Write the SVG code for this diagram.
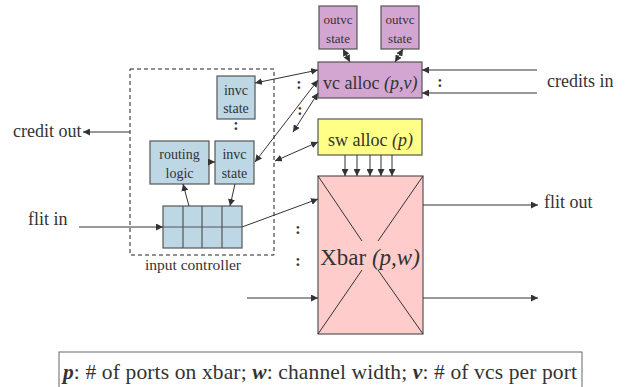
<svg xmlns="http://www.w3.org/2000/svg" width="628" height="387" viewBox="0 0 628 387" font-family="'Liberation Serif', serif">
<defs>
<marker id="ah" viewBox="0 0 10 10" refX="10" refY="5" markerWidth="7" markerHeight="7" markerUnits="userSpaceOnUse" orient="auto-start-reverse">
<path d="M0,0 L10,5 L0,10 z" fill="#333"/>
</marker>
<style>
text{font-family:'Liberation Serif',serif;fill:#333;}
.box{stroke:#555;stroke-width:1.2;}
.purple{fill:#D3A6D1;}
.yellow{fill:#FFFF88;}
.pink{fill:#FFCCCC;}
.blue{fill:#BDD7E4;}
.c{stroke:#333;stroke-width:1;fill:none;}
.a{stroke:#333;stroke-width:1;fill:none;marker-end:url(#ah);}
.b{stroke:#333;stroke-width:1;fill:none;marker-end:url(#ah);marker-start:url(#ah);}
.dot{font-size:16px;font-weight:bold;}
.s12{font-size:13px;}
.s13{font-size:14px;}
.s18{font-size:18px;}
.m{text-anchor:middle;}
</style>
</defs>

<g id="outvc1">
<rect class="box purple" x="319" y="6" width="38" height="43"/>
<text class="s12 m" x="338" y="24" font-family="'Liberation Serif', serif">outvc</text>
<text class="s12 m" x="338" y="43" font-family="'Liberation Serif', serif">state</text>
</g>
<g id="outvc2">
<rect class="box purple" x="381" y="6" width="38" height="43"/>
<text class="s12 m" x="400" y="24" font-family="'Liberation Serif', serif">outvc</text>
<text class="s12 m" x="400" y="43" font-family="'Liberation Serif', serif">state</text>
</g>
<g id="vcalloc">
<rect class="box purple" x="318" y="62" width="104" height="36"/>
<text class="s18" x="323" y="89" font-family="'Liberation Serif', serif">vc alloc <tspan font-style="italic">(p,v)</tspan></text>
</g>
<g id="swalloc">
<rect class="box yellow" x="318" y="119" width="104" height="36"/>
<text class="s18" x="328" y="146" font-family="'Liberation Serif', serif">sw alloc <tspan font-style="italic">(p)</tspan></text>
</g>
<g id="xbar">
<rect class="box pink" x="318" y="176" width="105" height="158"/>
<path class="c" d="M318,176 L362,241 M423,176 L378,241 M318,334 L362,270 M423,334 L378,270"/>
<text class="m" x="370" y="265" font-size="23" font-family="'Liberation Serif', serif">Xbar <tspan font-style="italic">(p,w)</tspan></text>
</g>

<g id="inputcontroller">
<rect x="130" y="69" width="144" height="186" fill="none" stroke="#222" stroke-width="1" stroke-dasharray="4,3"/>
<text x="193" y="270" font-size="15.5" class="m" font-family="'Liberation Serif', serif">input controller</text>
</g>
<g id="invc1">
<rect class="box blue" x="217" y="76" width="38" height="43"/>
<text class="s13 m" x="236" y="95" font-family="'Liberation Serif', serif">invc</text>
<text class="s13 m" x="236" y="113" font-family="'Liberation Serif', serif">state</text>
</g>
<g id="routing">
<rect class="box blue" x="150" y="141" width="59" height="43"/>
<text class="s13 m" x="179.500" y="159" font-family="'Liberation Serif', serif">routing</text>
<text class="s13 m" x="179.500" y="178" font-family="'Liberation Serif', serif">logic</text>
</g>
<g id="invc2">
<rect class="box blue" x="215" y="141" width="39" height="43"/>
<text class="s13 m" x="234.500" y="159" font-family="'Liberation Serif', serif">invc</text>
<text class="s13 m" x="234.500" y="178" font-family="'Liberation Serif', serif">state</text>
</g>
<g id="buffer">
<rect class="box blue" x="163" y="206" width="79" height="42"/>
<path stroke="#555" stroke-width="1.2" d="M183,206 V248 M202,206 V248 M222,206 V248 M163,227 H242"/>
</g>

<g id="labels" font-family="'Liberation Serif', serif">
<text class="s18" x="13" y="137" font-family="'Liberation Serif', serif">credit out</text>
<text class="s18" x="28" y="225" font-family="'Liberation Serif', serif">flit in</text>
<text class="s18" x="547" y="87" font-family="'Liberation Serif', serif">credits in</text>
<text class="s18" x="544" y="208" font-family="'Liberation Serif', serif">flit out</text>
<text class="dot" x="236" y="130" text-anchor="middle">:</text>
<text class="dot" x="299" y="89" text-anchor="middle">:</text>
<text class="dot" x="300" y="115" text-anchor="middle">:</text>
<text class="dot" x="440" y="87" text-anchor="middle">:</text>
<text class="dot" x="298" y="234" text-anchor="middle">:</text>
<text class="dot" x="298" y="266" text-anchor="middle">:</text>
</g>

<g id="connectors">
<path class="b" d="M343,49 L350,62"/>
<path class="b" d="M403,49 L395,62"/>
<path class="a" d="M537,70 H422"/>
<path class="a" d="M537,93 H422"/>
<path class="a" d="M130,132 H83"/>
<path class="a" d="M79,227 H163"/>
<path class="a" d="M242,227 L318,199"/>
<path class="a" d="M247,298 H318"/>
<path class="a" d="M423,205 H538"/>
<path class="a" d="M423,298 H538"/>
<path class="a" d="M209,162 H215"/>
<path class="a" d="M189,206 L183,184"/>
<path class="a" d="M235,184 L230,206"/>
<path class="b" d="M255,83 L318,70"/>
<path class="b" d="M255,162 L318,80"/>
<path class="b" d="M293,132 L318,93"/>
<path class="b" d="M275,161 L318,142"/>
<path class="a" d="M345,155 V176"/>
<path class="a" d="M357,155 V176"/>
<path class="a" d="M370,155 V176"/>
<path class="a" d="M381,155 V176"/>
<path class="a" d="M392,155 V176"/>
</g>

<g id="legend">
<rect x="59" y="352" width="523" height="40" fill="none" stroke="#666" stroke-width="1"/>
<text x="63" y="379" font-size="21.5" font-family="'Liberation Serif', serif" textLength="514" lengthAdjust="spacing"><tspan font-weight="bold" font-style="italic">p</tspan>: # of ports on xbar; <tspan font-weight="bold" font-style="italic">w</tspan>: channel width; <tspan font-weight="bold" font-style="italic">v</tspan>: # of vcs per port</text>
</g>
</svg>
